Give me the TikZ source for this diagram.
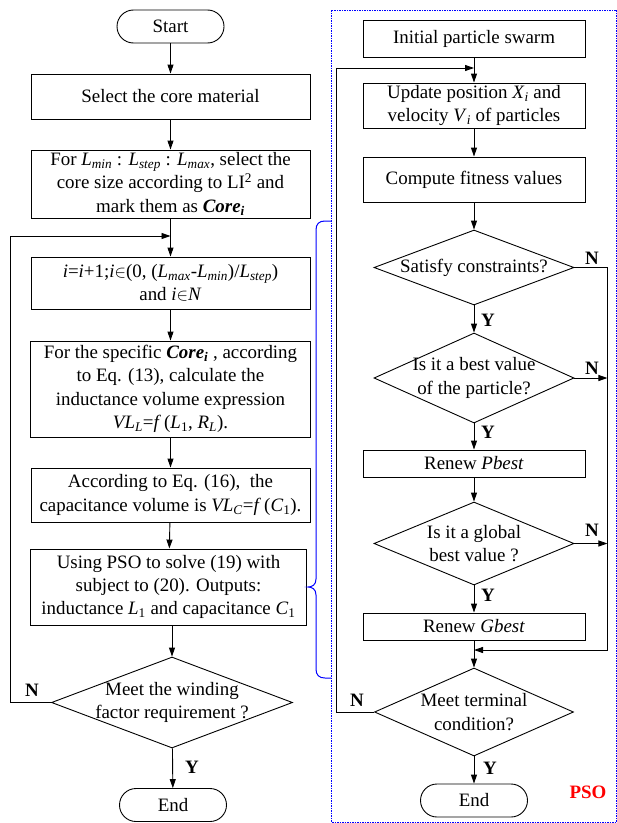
\documentclass[tikz,border=0pt]{standalone}
\usepackage{fontspec}
\setmainfont{Liberation Serif}
\usetikzlibrary{shapes.geometric,arrows.meta}
\newcommand{\vsub}[2]{\textit{#1}\textsubscript{\textit{#2}}}
\newcommand{\corei}{\textbf{\textit{Core}}\textsubscript{\textbf{\textit{i}}}}
\begin{document}
\begin{tikzpicture}[x=1bp,y=-1bp,
  every node/.style={font=\fontsize{19}{23.5}\selectfont, inner sep=0pt},
  box/.style={draw, line width=0.9bp, align=center},
  term/.style={draw, line width=0.9bp, rounded corners=16.5bp, minimum width=107bp, minimum height=33bp},
  dia/.style={draw, diamond, line width=0.9bp},
  lbl/.style={font=\fontsize{19}{23}\selectfont\bfseries},
  arr/.style={line width=0.9bp, -{Triangle[length=9bp,width=6bp]}},
  ln/.style={line width=0.9bp},
  bracestyle/.style={draw=blue, line width=1bp},
  psobox/.style={draw=blue, line width=0.8bp, dash pattern=on 1.5bp off 1bp}
]
\useasboundingbox (0,0) rectangle (617,823);

% PSO dashed frame
\draw[psobox] (331.5,10) rectangle (616.5,822);

% ---------- left column ----------
\node[term] (start) at (170.5,26.5) {Start};
\node[box, minimum width=279bp, minimum height=45bp] (sel) at (170.5,96.5) {Select the core material};
\node[box, minimum width=279bp, minimum height=68bp] (forL) at (170.5,184)
  {For \vsub{L}{min} : \vsub{L}{step} : \vsub{L}{max}, select the\\core size according to LI\textsuperscript{2} and\\mark them as \corei};
\node[box, minimum width=279bp, minimum height=52bp] (incr) at (170.5,283)
  {\textit{i}=\textit{i}+1;\textit{i}$\in$(0, (\vsub{L}{max}-\vsub{L}{min})/\vsub{L}{step})\\and \textit{i}$\in$\textit{N}};
\node[box, minimum width=280bp, minimum height=96bp] (spec) at (170.5,389)
  {For the specific \corei\ , according\\to Eq. (13), calculate the\\inductance volume expression\\\vsub{VL}{L}=\textit{f}\,(\textit{L}\textsubscript{1}, \vsub{R}{L}).};
\node[box, minimum width=279bp, minimum height=54bp] (eq16) at (170.5,495)
  {According to Eq. (16),\ \ the\\capacitance volume is \vsub{VL}{C}=\textit{f}\,(\textit{C}\textsubscript{1}).};
\node[box, minimum width=276bp, minimum height=76bp] (pso) at (168.5,587)
  {Using PSO to solve (19) with\\subject to (20). Outputs:\\inductance \textit{L}\textsubscript{1} and capacitance \textit{C}\textsubscript{1}};
\node[dia, minimum width=241bp, minimum height=91bp] (wind) at (172,702.5) {};
\node[align=center] (windt) at (wind.center) {Meet the winding\\factor requirement ?};
\node[term] (end1) at (173,805) {End};

\coordinate (mergeL) at (170.5,236);

\draw[arr] (start) -- (sel);
\draw[arr] (sel) -- (forL);
\draw[arr] (forL) -- (incr);
\draw[arr] (incr) -- (spec);
\draw[arr] (spec) -- (eq16);
\draw[arr] (eq16) -- (pso);
\draw[arr] (pso.south -| wind.north) -- (wind.north);
\draw[arr] (wind) -- (end1);
\draw[arr] (wind.west) -- ++(-40.5,0) |- (mergeL);
\node[lbl] (nl) at (32,690) {N};
\node[lbl] (yl) at (192,767) {Y};

% ---------- brace ----------
\draw[bracestyle] (331,221) -- (325,221) .. controls (319,221) and (316,224) .. (316,230)
  -- (316,579) .. controls (316,585) and (312,587) .. (308,587)
  .. controls (312,587) and (316,589) .. (316,595)
  -- (316,669) .. controls (316,675) and (319,678) .. (325,678) -- (331,678);

% ---------- right column ----------
\node[box, minimum width=222bp, minimum height=37bp] (init) at (474,38.5) {Initial particle swarm};
\node[box, minimum width=222bp, minimum height=45bp] (upd) at (474,105.5)
  {Update position \vsub{X}{i} and\\velocity \vsub{V}{i} of particles};
\node[box, minimum width=222bp, minimum height=45bp] (comp) at (474,179.5) {Compute fitness values};
\node[dia, minimum width=200bp, minimum height=75bp] (dsat) at (474,267.5) {};
\node (dsatt) at (dsat.center) {Satisfy constraints?};
\node[dia, minimum width=200bp, minimum height=90bp] (dbest) at (474,378) {};
\node[align=center] (dbestt) at (dbest.center) {Is it a best value\\of the particle?};
\node[box, minimum width=222bp, minimum height=27bp] (pbest) at (474,463.5) {Renew \textit{Pbest}};
\node[dia, minimum width=200bp, minimum height=83bp] (dglob) at (474,543.5) {};
\node[align=center] (dglobt) at (dglob.center) {Is it a global\\best value ?};
\node[box, minimum width=222bp, minimum height=27bp] (gbest) at (474,626.5) {Renew \textit{Gbest}};
\node[dia, minimum width=199bp, minimum height=88bp] (dterm) at (474,712) {};
\node[align=center] (dtermt) at (dterm.center) {Meet terminal\\condition?};
\node[term] (end2) at (474,800.5) {End};

\coordinate (mergeR) at (474,68);
\coordinate (mergeR2) at (474,650);

\draw[arr] (init) -- (upd);
\draw[arr] (upd) -- (comp);
\draw[arr] (comp) -- (dsat);
\draw[arr] (dsat) -- (dbest);
\draw[arr] (dbest) -- (pbest);
\draw[arr] (pbest) -- (dglob);
\draw[arr] (dglob) -- (gbest);
\draw[arr] (gbest) -- (dterm);
\draw[arr] (dterm) -- (end2);
\draw[arr] (dsat.east) -- ++(33,0) |- (mergeR2);
\draw[arr] (dbest.east) -- ++(33,0);
\draw[arr] (dglob.east) -- ++(33,0);
\draw[arr] (dterm.west) -- ++(-38,0) |- (mergeR);

\node[lbl] (n1) at (592,258) {N};
\node[lbl] (n2) at (592,368) {N};
\node[lbl] (n3) at (592,530) {N};
\node[lbl] (n4) at (357,700) {N};
\node[lbl] (y1) at (488,320) {Y};
\node[lbl] (y2) at (488,432) {Y};
\node[lbl] (y3) at (488,595) {Y};
\node[lbl] (y4) at (490,768) {Y};
\node[lbl, text=red] (psol) at (588,792) {PSO};
\end{tikzpicture}
\end{document}
